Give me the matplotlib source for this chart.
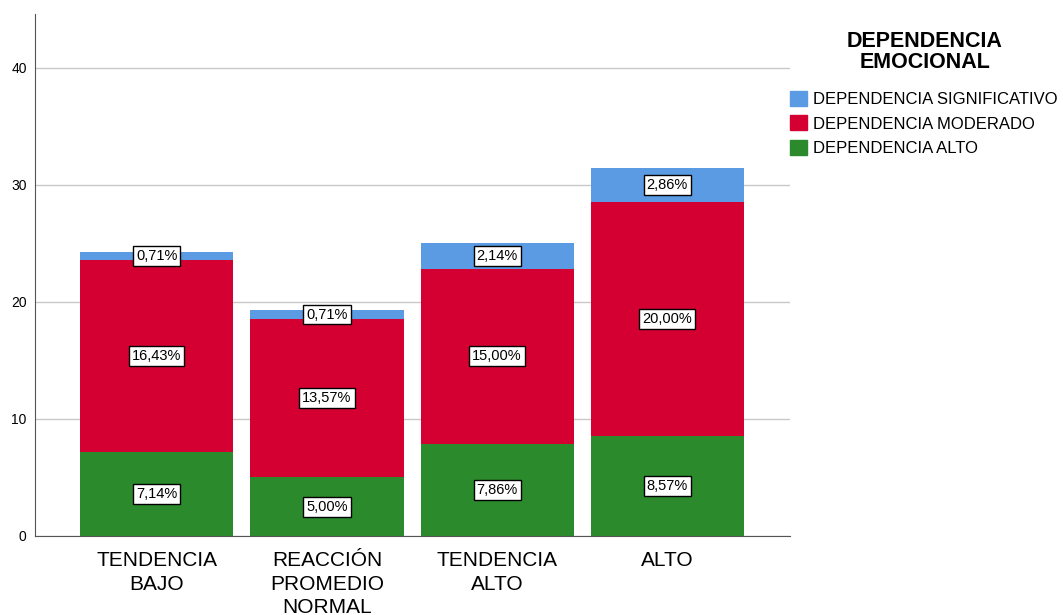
import matplotlib
matplotlib.use("Agg")
import matplotlib.pyplot as plt
import numpy as np
from matplotlib.patches import Patch

plt.rcParams["font.family"] = ["Liberation Sans", "DejaVu Sans"]

categories = ["TENDENCIA\nBAJO", "REACCIÓN\nPROMEDIO\nNORMAL", "TENDENCIA\nALTO", "ALTO"]
alto = [7.14, 5.00, 7.86, 8.57]
moderado = [16.43, 13.57, 15.00, 20.00]
significativo = [0.71, 0.71, 2.14, 2.86]

series = [
    ("DEPENDENCIA ALTO", alto, "#2b8a2b"),
    ("DEPENDENCIA MODERADO", moderado, "#d50032"),
    ("DEPENDENCIA SIGNIFICATIVO", significativo, "#5a9be3"),
]

fig = plt.figure(figsize=(10.63, 6.15), dpi=100)
ax = fig.add_axes([0.033, 0.1285, 0.71, 0.8485])

x = np.arange(len(categories))
bottom = np.zeros(len(categories))
for name, vals, color in series:
    vals = np.array(vals)
    ax.bar(x, vals, width=0.9, bottom=bottom, color=color, zorder=2)
    for xi, b, v in zip(x, bottom, vals):
        ax.text(xi, b + v / 2, f"{v:.2f}%".replace(".", ","), ha="center", va="center",
                fontsize=10.5, zorder=3,
                bbox=dict(boxstyle="square,pad=0.2", fc="white", ec="black", lw=1))
    bottom += vals

ax.set_xlim(-0.715, 3.72)
ax.set_ylim(0, 44.6)
ax.set_yticks([0, 10, 20, 30, 40])
ax.set_xticks(x)
ax.set_xticklabels(categories, fontsize=15, linespacing=1.3)
ax.tick_params(axis="both", length=0)
ax.tick_params(axis="y", labelsize=10, pad=6)
ax.tick_params(axis="x", pad=11)
ax.yaxis.grid(True, color="#c8c8c8", lw=1, zorder=0)
for s in ["top", "right"]:
    ax.spines[s].set_visible(False)
ax.spines["left"].set_color("#555555")
ax.spines["bottom"].set_color("#555555")

fig.text(925 / 1063, 1 - 52 / 615, "DEPENDENCIA\nEMOCIONAL", ha="center", va="center",
         fontsize=15.5, fontweight="bold", linespacing=1.0)

handles = [Patch(color=c, label=n) for n, _, c in reversed(series)]
fig.legend(handles=handles, loc="upper left", bbox_to_anchor=(0.7434, 1 - 91 / 615),
           frameon=False, fontsize=12,
           handlelength=1.0, handleheight=1.0, handletextpad=0.35,
           labelspacing=0.5, borderpad=0.0, borderaxespad=0.0)

fig.savefig("out.png", dpi=100)
